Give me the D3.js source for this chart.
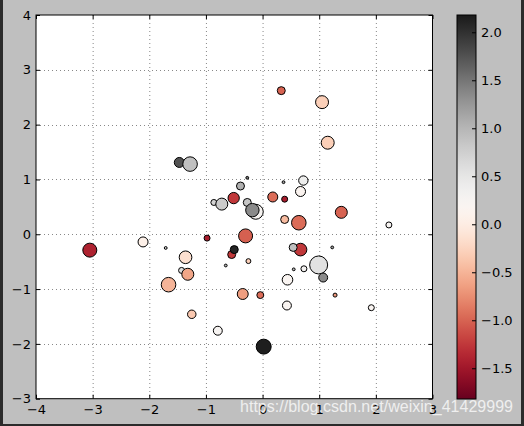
<!DOCTYPE html>
<html>
<head>
<meta charset="utf-8">
<script src="https://cdn.jsdelivr.net/npm/d3@7"></script>
<style>
  body { margin: 0; background: #bfbfbf; }
  svg { display: block; font-family: "DejaVu Sans", sans-serif; }
</style>
</head>
<body>
<svg width="524" height="426"></svg>
<script>
// scatter data: position, marker area, colour value
const xs = [-1.47, -1.28, -3.05, -2.11, -1.71, -1.36, -1.43, -1.32, -1.66, -1.25,
            -0.98, -0.30, -0.545, -0.50, -0.65, -0.25, -0.35, -0.04, -0.79, 0.02,
            0.43, -0.27, -0.39, 0.37, -0.51, -0.86, -0.72, -0.27, -0.12, -0.18,
            0.18, 0.39, 0.39, 0.64, 0.72, 0.67, 1.39, 0.67, 0.54, 1.23,
            0.55, 0.73, 0.99, 1.07, 0.44, 1.28, 1.92, 2.23, 0.33, 1.05, 1.15];
const ys = [1.31, 1.28, -0.29, -0.14, -0.25, -0.42, -0.66, -0.73, -0.92, -1.46,
            -0.07, -0.03, -0.37, -0.28, -0.57, -0.49, -1.09, -1.11, -1.76, -2.05,
            -1.30, 1.03, 0.88, 0.95, 0.66, 0.58, 0.55, 0.58, 0.41, 0.44,
            0.68, 0.64, 0.27, 0.21, 0.98, 0.78, 0.40, -0.28, -0.24, -0.24,
            -0.64, -0.63, -0.56, -0.79, -0.83, -1.11, -1.34, 0.17, 2.62, 2.41, 1.67];
const sizes = [25, 53, 49, 25, 2, 40, 9, 36, 53, 18,
               9, 49, 16, 16, 2, 6, 30, 12, 20, 56,
               20, 2, 16, 2, 32, 9, 36, 16, 56, 45,
               25, 9, 16, 53, 22, 25, 36, 40, 16, 2,
               2, 9, 81, 20, 28, 4, 9, 9, 16, 42, 42];
const vals = [1.75, 0.9, -1.4, 0.05, 0.8, -0.15, 0.6, -0.6, -0.5, -0.35,
              -1.45, -1.02, -1.25, 2.1, 1.0, -0.3, -0.65, -0.95, 0.25, 2.15,
              0.2, 1.5, 1.05, 1.2, -1.25, 0.7, 0.8, 0.85, 0.25, 1.35,
              -0.95, -1.45, -0.45, -0.95, 0.4, 0.15, -1.0, -1.25, 0.9, 1.2,
              1.0, 0.3, 0.55, 1.35, 0.2, -0.7, 0.2, 0.25, -1.0, -0.3, -0.3];

const xTicks = [-4, -3, -2, -1, 0, 1, 2, 3];
const yTicks = [-3, -2, -1, 0, 1, 2, 3, 4];
const cbTicks = [-1.5, -1.0, -0.5, 0.0, 0.5, 1.0, 1.5, 2.0];
const cRange = [-1.82, 2.18];

const svg = d3.select('svg');

// outer dark frame of the screenshot
svg.append('rect').attr('x', 0).attr('y', 0).attr('width', 3).attr('height', 426).attr('fill', '#2b2b2b');
svg.append('rect').attr('x', 521).attr('y', 0).attr('width', 3).attr('height', 426).attr('fill', '#2b2b2b');
svg.append('rect').attr('x', 0).attr('y', 424).attr('width', 524).attr('height', 2).attr('fill', '#2b2b2b');

const x = d3.scaleLinear().domain([-4, 3]).range([36, 432.5]);
const y = d3.scaleLinear().domain([-3, 4]).range([398.7, 15]);
const r = d3.scaleSqrt().domain([0, 100]).range([0, 10]);
const color = v => d3.interpolateRdGy((v - cRange[0]) / (cRange[1] - cRange[0]));

// plot area
svg.append('rect')
    .attr('x', x(-4)).attr('y', y(4))
    .attr('width', x(3) - x(-4)).attr('height', y(-3) - y(4))
    .attr('fill', '#fff');

// dotted grid
const grid = svg.append('g').attr('stroke', '#888').attr('stroke-width', 1).attr('stroke-dasharray', '1,3');
grid.selectAll('line.gx').data(xTicks.slice(1, -1)).enter().append('line')
    .attr('x1', d => x(d) + 0.5).attr('x2', d => x(d) + 0.5)
    .attr('y1', y(4)).attr('y2', y(-3));
grid.selectAll('line.gy').data(yTicks.slice(1, -1)).enter().append('line')
    .attr('y1', d => Math.round(y(d)) + 0.5).attr('y2', d => Math.round(y(d)) + 0.5)
    .attr('x1', x(-4)).attr('x2', x(3));

// points
const pts = d3.range(xs.length);
svg.append('g').selectAll('circle').data(pts).enter().append('circle')
    .attr('cx', i => x(xs[i]))
    .attr('cy', i => y(ys[i]))
    .attr('r', i => r(sizes[i]))
    .attr('fill', i => color(vals[i]))
    .attr('stroke', '#000')
    .attr('stroke-width', 1);

// axes with inside ticks on all four sides
const fmt = d3.format('d');
svg.append('g').attr('transform', `translate(0,${y(-3)})`)
    .call(d3.axisBottom(x).tickValues(xTicks).tickFormat(fmt).tickSizeInner(-4).tickSizeOuter(0).tickPadding(6));
svg.append('g').attr('transform', `translate(${x(-4)},0)`)
    .call(d3.axisLeft(y).tickValues(yTicks).tickFormat(fmt).tickSizeInner(-4).tickSizeOuter(0).tickPadding(5));
svg.append('g').attr('transform', `translate(0,${y(4)})`)
    .call(d3.axisTop(x).tickValues(xTicks).tickFormat('').tickSizeInner(-4).tickSizeOuter(0));
svg.append('g').attr('transform', `translate(${x(3)},0)`)
    .call(d3.axisRight(y).tickValues(yTicks).tickFormat('').tickSizeInner(-4).tickSizeOuter(0));
svg.selectAll('.domain').remove();
svg.selectAll('.tick text').attr('font-size', 13).attr('fill', '#000').attr('font-family', 'DejaVu Sans');
svg.selectAll('.tick line').attr('stroke', '#000');

svg.append('rect')
    .attr('x', x(-4)).attr('y', y(4))
    .attr('width', x(3) - x(-4)).attr('height', y(-3) - y(4))
    .attr('fill', 'none').attr('stroke', '#000').attr('stroke-width', 1);

// colorbar
const cb = d3.scaleLinear().domain(cRange).range([399, 15]);
const grad = svg.append('defs').append('linearGradient')
    .attr('id', 'cbar').attr('x1', 0).attr('y1', 1).attr('x2', 0).attr('y2', 0);
grad.selectAll('stop').data(d3.range(0, 1.0001, 0.02)).enter().append('stop')
    .attr('offset', d => d)
    .attr('stop-color', d => d3.interpolateRdGy(d));
const cbX = 457, cbW = 19;
svg.append('rect')
    .attr('x', cbX).attr('y', cb(cRange[1]))
    .attr('width', cbW).attr('height', cb(cRange[0]) - cb(cRange[1]))
    .attr('fill', 'url(#cbar)').attr('stroke', '#000').attr('stroke-width', 1);
const axC = svg.append('g').attr('transform', `translate(${cbX + cbW},0)`)
    .call(d3.axisRight(cb).tickValues(cbTicks).tickFormat(d3.format('.1f')).tickSizeInner(-4).tickSizeOuter(0).tickPadding(5));
axC.select('.domain').remove();
axC.selectAll('.tick text').attr('font-size', 13).attr('fill', '#000').attr('font-family', 'DejaVu Sans');
axC.selectAll('.tick line').attr('stroke', '#000');

// watermark
svg.append('text')
    .attr('x', 240).attr('y', 412)
    .attr('font-family', 'Liberation Sans, Arial, sans-serif')
    .attr('font-size', 16)
    .attr('textLength', 273)
    .attr('fill', '#fff').attr('fill-opacity', 0.75)
    .text('https://blog.csdn.net/weixin_41429999');
</script>
</body>
</html>
